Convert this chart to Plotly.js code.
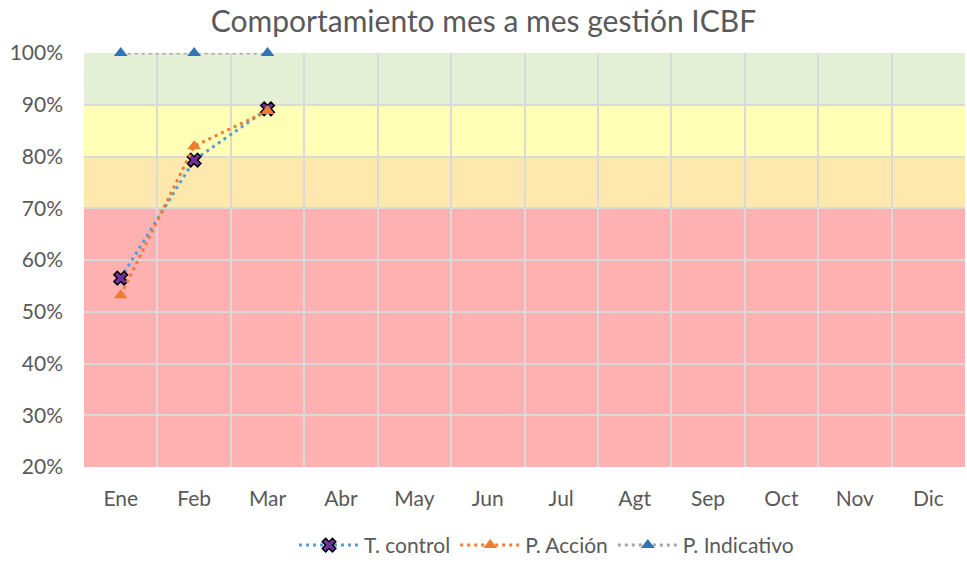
<!DOCTYPE html>
<html><head><meta charset="utf-8">
<script src="https://cdn.plot.ly/plotly-3.0.1.min.js"></script>
<style>html,body{margin:0;padding:0;background:#fff}</style>
</head><body>
<div id="chart" style="width:967px;height:562px"></div>
<script>
const months = ['Ene','Feb','Mar','Abr','May','Jun','Jul','Agt','Sep','Oct','Nov','Dic'];
const seriesMonths = ['Ene','Feb','Mar'];
const tControl = [0.565, 0.793, 0.892];
const pAccion = [0.532, 0.820, 0.888];
const pIndicativo = [1.0, 1.0, 1.0];
// background bands: [from, to, colour]
const bandLimits = [0.2, 0.7, 0.8, 0.9, 1.0];
const bandColors = ['#FFB0B0', '#FFE8AD', '#FFFFB5', '#E3F0D6'];

const fontFam = 'Lato, "Open Sans", sans-serif';
const dotDash = '3px,4px';
const traces = [
  {x: seriesMonths, y: tControl, name: 'T. control', mode: 'lines+markers', cliponaxis: false,
   line: {color: '#5B9BD5', width: 3, dash: dotDash},
   marker: {symbol: 'x', size: 12, color: '#7030A0', line: {color: '#000', width: 1.5}}},
  {x: seriesMonths, y: pAccion, name: 'P. Acción', mode: 'lines+markers', cliponaxis: false,
   line: {color: '#ED7D31', width: 3, dash: dotDash},
   marker: {symbol: 'triangle-up', size: 12, color: '#ED7D31'}},
  {x: seriesMonths, y: pIndicativo, name: 'P. Indicativo', mode: 'lines+markers', cliponaxis: false,
   line: {color: '#A5A5A5', width: 3, dash: dotDash},
   marker: {symbol: 'triangle-up', size: 12, color: '#2E75B6'}}
];
const shapes = bandColors.map((c, i) => ({
  type: 'rect', xref: 'paper', yref: 'y', x0: 0, x1: 1,
  y0: bandLimits[i], y1: bandLimits[i+1], fillcolor: c, line: {width: 0}, layer: 'below'
}));
const layout = {
  width: 967, height: 562,
  margin: {l: 84, r: 2, t: 53, b: 95, autoexpand: false},
  paper_bgcolor: '#fff', plot_bgcolor: 'rgba(0,0,0,0)',
  title: {text: 'Comportamiento mes a mes gestión ICBF', x: 0.5, xanchor: 'center', y: 0.962, yanchor: 'middle',
          font: {family: fontFam, size: 30, color: '#595959'}},
  xaxis: {type: 'category', categoryorder: 'array', categoryarray: months, tickvals: months,
          range: [-0.5, 11.5], tickson: 'boundaries', showgrid: true, gridcolor: '#D9D9D9', gridwidth: 2,
          ticks: '', showline: false, zeroline: false, ticklabelstandoff: 17, automargin: false,
          tickfont: {family: fontFam, size: 21, color: '#595959'}},
  yaxis: {range: [0.2, 1.0], dtick: 0.1, tickformat: '.0%', showgrid: true, gridcolor: '#D9D9D9',
          gridwidth: 2, zeroline: false, ticks: '', automargin: false, ticklabelstandoff: 20,
          tickfont: {family: fontFam, size: 21, color: '#595959'}},
  shapes: shapes,
  showlegend: true,
  legend: {orientation: 'h', x: 0.525, xanchor: 'center', y: -0.14, yanchor: 'top',
           font: {family: fontFam, size: 21, color: '#595959'}, itemwidth: 60},
  hovermode: false
};
Plotly.newPlot('chart', traces, layout, {displayModeBar: false, staticPlot: true});
</script>
</body></html>
